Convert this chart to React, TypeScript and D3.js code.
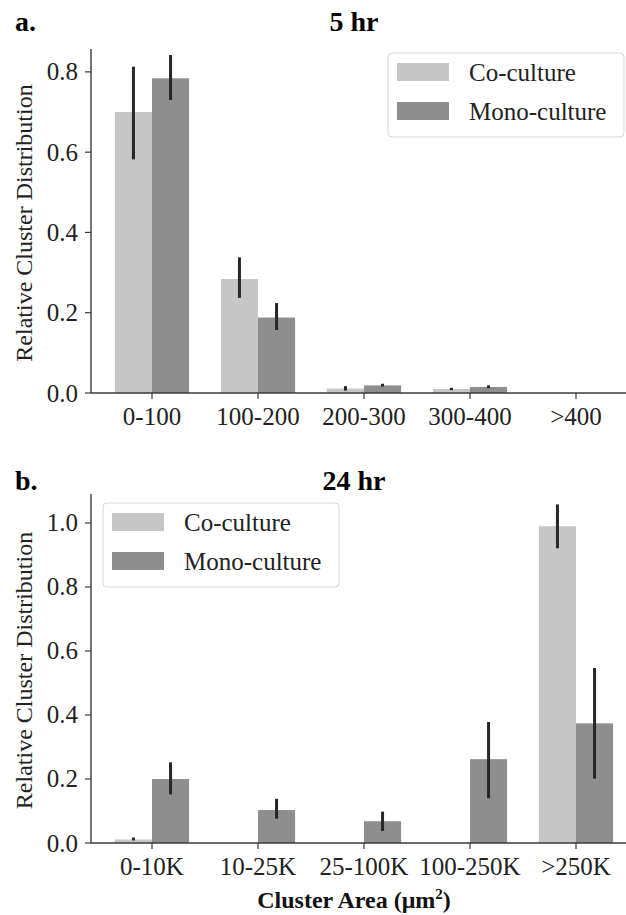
import React from "react";
import * as d3 from "d3";

const categories5 = ["0-100", "100-200", "200-300", "300-400", ">400"];
const co5 = [0.70, 0.284, 0.011, 0.010, 0];
const co5Lo = [0.582, 0.237, 0.006, 0.007, 0];
const co5Hi = [0.813, 0.338, 0.017, 0.013, 0];
const mono5 = [0.784, 0.188, 0.019, 0.015, 0];
const mono5Lo = [0.730, 0.157, 0.016, 0.012, 0];
const mono5Hi = [0.842, 0.224, 0.023, 0.019, 0];
const yTicks5 = [0, 0.2, 0.4, 0.6, 0.8];

const categories24 = ["0-10K", "10-25K", "25-100K", "100-250K", ">250K"];
const co24 = [0.011, 0, 0, 0, 0.99];
const co24Lo = [0.008, 0, 0, 0, 0.921];
const co24Hi = [0.017, 0, 0, 0, 1.058];
const mono24 = [0.2, 0.103, 0.068, 0.262, 0.374];
const mono24Lo = [0.152, 0.076, 0.0375, 0.14, 0.201];
const mono24Hi = [0.252, 0.138, 0.098, 0.378, 0.547];
const yTicks24 = [0, 0.2, 0.4, 0.6, 0.8, 1.0];

const seriesNames = ["Co-culture", "Mono-culture"];
const colors = ["#c6c6c6", "#8e8e8e"];
const FONT = '"Liberation Serif", "Times New Roman", Times, serif';

type PanelProps = {
  letter: string;
  title: string;
  categories: string[];
  vals: number[][];
  lo: number[][];
  hi: number[][];
  yTicks: number[];
  yMax: number;
  top: number;
  bottom: number;
  titleY: number;
  legend: { x: number; y: number };
  xLabel?: string;
};

function Panel(p: PanelProps) {
  const left = 91;
  const x = d3
    .scaleBand<string>()
    .domain(p.categories)
    .range([left, 637])
    .paddingInner(0.3)
    .paddingOuter(0.2255);
  const x1 = d3.scaleBand<number>().domain([0, 1]).range([0, x.bandwidth()]);
  const y = d3.scaleLinear().domain([0, p.yMax]).range([p.bottom, p.top]);
  const axisColor = "#3a3a3a";
  const lx = p.legend.x;
  const ly = p.legend.y;
  return (
    <g style={{ fontFamily: FONT }}>
      <text x={15} y={p.titleY} fontSize={28} fontWeight="bold">{p.letter}</text>
      <text x={354} y={p.titleY} fontSize={28} fontWeight="bold" textAnchor="middle">{p.title}</text>
      {p.categories.map((c, i) =>
        [0, 1].map((s) => (
          <rect
            key={c + s}
            x={(x(c) as number) + (x1(s) as number)}
            width={x1.bandwidth()}
            y={y(p.vals[s][i])}
            height={y(0) - y(p.vals[s][i])}
            fill={colors[s]}
          />
        ))
      )}
      {p.categories.map((c, i) =>
        [0, 1].map((s) =>
          p.hi[s][i] > p.lo[s][i] ? (
            <line
              key={"e" + c + s}
              x1={(x(c) as number) + (x1(s) as number) + x1.bandwidth() / 2}
              x2={(x(c) as number) + (x1(s) as number) + x1.bandwidth() / 2}
              y1={y(p.lo[s][i])}
              y2={y(p.hi[s][i])}
              stroke="#262626"
              strokeWidth={3}
            />
          ) : null
        )
      )}
      <line x1={left} x2={left} y1={p.top} y2={p.bottom} stroke={axisColor} strokeWidth={1.4} />
      <line x1={left} x2={626} y1={p.bottom} y2={p.bottom} stroke={axisColor} strokeWidth={1.4} />
      {p.yTicks.map((t) => (
        <g key={t}>
          <line x1={left - 6} x2={left} y1={y(t)} y2={y(t)} stroke={axisColor} strokeWidth={1.2} />
          <text x={78} y={y(t)} dy="0.34em" fontSize={25} textAnchor="end" fill="#222">
            {t.toFixed(1)}
          </text>
        </g>
      ))}
      {p.categories.map((c) => {
        const cx = (x(c) as number) + x.bandwidth() / 2;
        return (
          <g key={"t" + c}>
            <line x1={cx} x2={cx} y1={p.bottom} y2={p.bottom + 6} stroke={axisColor} strokeWidth={1.2} />
            <text x={cx} y={p.bottom + 32} fontSize={25} textAnchor="middle" fill="#222">{c}</text>
          </g>
        );
      })}
      <text
        transform={`translate(32,${(p.top + p.bottom) / 2 + 2}) rotate(-90)`}
        fontSize={24}
        textAnchor="middle"
        fill="#222"
      >
        Relative Cluster Distribution
      </text>
      <rect x={lx} y={ly} width={236} height={84} rx={4} fill="white" fillOpacity={0.8} stroke="#d6d6d6" strokeWidth={1} />
      {seriesNames.map((n, i) => (
        <g key={n}>
          <rect x={lx + 9} y={ly + 10 + i * 39} width={52} height={18} fill={colors[i]} />
          <text x={lx + 81} y={ly + 28 + i * 39} fontSize={25} fill="#222">{n}</text>
        </g>
      ))}
      {p.xLabel ? (
        <text x={354} y={908} fontSize={24} fontWeight="bold" textAnchor="middle" fill="#111">
          Cluster Area (μm<tspan dy={-9} fontSize={15}>2</tspan><tspan dy={9}>)</tspan>
        </text>
      ) : null}
    </g>
  );
}

export default function App() {
  return (
    <svg
      width={626}
      height={915}
      style={{ position: "absolute", left: 0, top: 0, background: "white", fontFamily: FONT }}
    >
      <rect width={626} height={915} fill="white" />
      <Panel
        letter="a."
        title="5 hr"
        categories={categories5}
        vals={[co5, mono5]}
        lo={[co5Lo, mono5Lo]}
        hi={[co5Hi, mono5Hi]}
        yTicks={yTicks5}
        yMax={0.857}
        top={49}
        bottom={393}
        titleY={31}
        legend={{ x: 388, y: 53 }}
      />
      <Panel
        letter="b."
        title="24 hr"
        categories={categories24}
        vals={[co24, mono24]}
        lo={[co24Lo, mono24Lo]}
        hi={[co24Hi, mono24Hi]}
        yTicks={yTicks24}
        yMax={1.0906}
        top={494}
        bottom={843}
        titleY={490}
        legend={{ x: 103, y: 503 }}
        xLabel="Cluster Area"
      />
    </svg>
  );
}
